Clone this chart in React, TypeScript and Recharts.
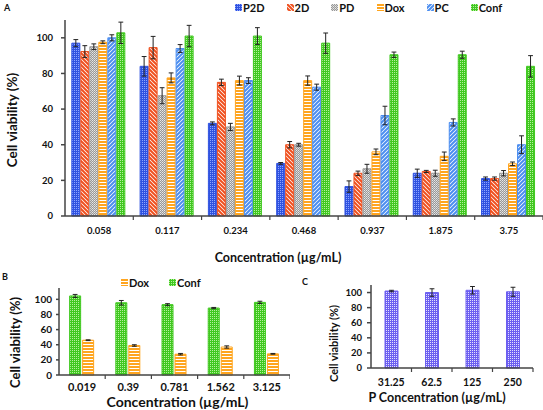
import React from 'react';
import { BarChart, Bar, XAxis, YAxis, ErrorBar, Legend } from 'recharts';

const FONT = 'Lato, "Open Sans", sans-serif';

// Panel A
const concA = ['0.058', '0.117', '0.234', '0.468', '0.937', '1.875', '3.75'];
const p2d = [97, 84, 52, 29.5, 16.5, 24, 21];
const p2dErr = [2, 5.5, 0.8, 0.5, 3.2, 2.3, 0.9];
const d2 = [92.3, 94.5, 75, 40, 24, 25, 21];
const d2Err = [3.3, 6.3, 1.8, 1.8, 1.2, 0.6, 0.9];
const pd = [95, 67.5, 50, 40, 26.5, 24, 24];
const pdErr = [1.6, 4.5, 2, 0.8, 2.5, 1.7, 1.5];
const dox = [97.5, 77.5, 76, 76, 36, 33.5, 29.3];
const doxErr = [0.8, 2.8, 2.5, 2.6, 1.6, 2.4, 1];
const pc = [100, 94, 76, 72.3, 56.4, 52.5, 40];
const pcErr = [1.7, 2.2, 1.6, 1.7, 5.2, 2, 5];
const conf = [102.8, 101, 101, 97, 90.5, 90.5, 84];
const confErr = [6, 6, 4.7, 5.7, 1.5, 2, 6];

// Panel B
const concB = ['0.019', '0.39', '0.781', '1.562', '3.125'];
const confB = [104.5, 95.5, 93, 88.5, 96];
const confBErr = [2, 3, 1.3, 0.8, 1.5];
const doxB = [46, 39, 27.5, 37, 28];
const doxBErr = [0.5, 1, 1, 1.5, 0.5];

// Panel C
const concC = ['31.25', '62.5', '125', '250'];
const pC = [102, 100, 103, 101];
const pCErr = [1, 5, 5, 6];

const dataA = concA.map((c, i) => ({
  conc: c,
  p2d: p2d[i], p2dErr: p2dErr[i],
  d2: d2[i], d2Err: d2Err[i],
  pd: pd[i], pdErr: pdErr[i],
  dox: dox[i], doxErr: doxErr[i],
  pc: pc[i], pcErr: pcErr[i],
  conf: conf[i], confErr: confErr[i],
}));
const dataB = concB.map((c, i) => ({ conc: c, conf: confB[i], confErr: confBErr[i], dox: doxB[i], doxErr: doxBErr[i] }));
const dataC = concC.map((c, i) => ({ conc: c, p: pC[i], pErr: pCErr[i] }));

const seriesA = [
  { key: 'p2d', name: 'P2D', pat: 'patP2D', stroke: '#2f52e0' },
  { key: 'd2', name: '2D', pat: 'pat2D', stroke: '#f0501e' },
  { key: 'pd', name: 'PD', pat: 'patPD', stroke: '#9a9a9a' },
  { key: 'dox', name: 'Dox', pat: 'patDox', stroke: '#ffa51f' },
  { key: 'pc', name: 'PC', pat: 'patPC', stroke: '#4c8ef0' },
  { key: 'conf', name: 'Conf', pat: 'patConf', stroke: '#40c820' },
];

const AXIS = '#444';

// shared fill patterns, kept in one hidden svg of the page
const PatternDefs = () => (
  <svg width={0} height={0} style={{ position: 'absolute' }}>
    <defs>
      <pattern id="patP2D" width="2" height="2" patternUnits="userSpaceOnUse">
        <rect width="2" height="2" fill="#2f52e0" />
        <rect width="1" height="1" fill="#8ea6ff" />
      </pattern>
      <pattern id="pat2D" width="4" height="4" patternUnits="userSpaceOnUse">
        <rect width="4" height="4" fill="#fff" />
        <path d="M-1,-1 l6,6 M-1,3 l2,2 M3,-1 l2,2" stroke="#f0501e" strokeWidth="2" />
      </pattern>
      <pattern id="patPD" width="2" height="2" patternUnits="userSpaceOnUse">
        <rect width="2" height="2" fill="#999" />
        <rect width="1" height="1" fill="#e8e8e8" />
        <rect x="1" y="1" width="1" height="1" fill="#d0d0d0" />
      </pattern>
      <pattern id="patDox" width="3" height="3" patternUnits="userSpaceOnUse">
        <rect width="3" height="3" fill="#fff" />
        <rect width="3" height="2" fill="#ffa51f" />
      </pattern>
      <pattern id="patPC" width="4" height="4" patternUnits="userSpaceOnUse">
        <rect width="4" height="4" fill="#fff" />
        <path d="M-1,1 l2,-2 M0,4 l4,-4 M3,5 l2,-2" stroke="#4c8ef0" strokeWidth="2" />
      </pattern>
      <pattern id="patConf" width="2" height="2" patternUnits="userSpaceOnUse">
        <rect width="2" height="2" fill="#40c820" />
        <rect width="1" height="1" fill="#b4f09c" />
      </pattern>
      <pattern id="patP" width="2" height="2" patternUnits="userSpaceOnUse">
        <rect width="2" height="2" fill="#6c5ff0" />
        <rect width="1" height="1" fill="#e4e0ff" />
      </pattern>
    </defs>
  </svg>
);

const boundaryTick = (fontSize: number, margin: number) => (props: any) => {
  const { x, y, payload } = props;
  const half = payload?.offset ?? 0;
  const axisY = y - margin;
  return (
    <g>
      <line x1={x + half} x2={x + half} y1={axisY} y2={axisY + 4} stroke={AXIS} strokeWidth={1.2} />
      <text x={x} y={y} dy="0.71em" textAnchor="middle" fontSize={fontSize} fontWeight={700} fontFamily={FONT} fill="#111">
        {payload.value}
      </text>
    </g>
  );
};

const xTitle = (text: string, size: number, dx: number, dy: number) => (props: any) => {
  const vb = props.viewBox || {};
  return (
    <text x={vb.x + vb.width / 2 + dx} y={vb.y + dy} textAnchor="middle" dominantBaseline="central"
      fontSize={size} fontWeight={700} fontFamily={FONT} fill="#111">{text}</text>
  );
};

// cx is measured from the chart's left edge
const yTitle = (text: string, size: number, cx: number, dy: number) => (props: any) => {
  const vb = props.viewBox || {};
  const cy = vb.y + vb.height / 2 + dy;
  return (
    <text x={cx} y={cy} transform={`rotate(-90 ${cx} ${cy})`} textAnchor="middle" dominantBaseline="central"
      fontSize={size} fontWeight={700} fontFamily={FONT} fill="#111">{text}</text>
  );
};

const legendContent = (fontSize: number, gap: number, order: string[]) => (props: any) => {
  const items = [...(props.payload || [])].sort((a: any, b: any) => order.indexOf(a.value) - order.indexOf(b.value));
  return (
    <div style={{ display: 'flex', alignItems: 'center', fontFamily: FONT, fontWeight: 700, fontSize, lineHeight: 1, color: '#111' }}>
      {items.map((p: any) => (
        <span key={p.value} style={{ display: 'flex', alignItems: 'center', marginRight: gap }}>
          <svg width={7} height={7} style={{ marginRight: 1 }}><rect width={7} height={7} fill={p.color} /></svg>
          {p.value}
        </span>
      ))}
    </div>
  );
};

const panelLetter = (text: string, left: number, top: number) => (
  <div style={{ position: 'absolute', left, top, fontFamily: FONT, fontWeight: 700, fontSize: 9, color: '#111' }}>{text}</div>
);

const yTick = (size: number) => ({ fontSize: size, fontWeight: 700, fontFamily: FONT, fill: '#111' });

const panelBox = (left: number, top: number, width: number, height: number) => ({
  position: 'absolute' as const, left, top, width, height, overflow: 'hidden' as const,
});

export default function App() {
  return (
    <div style={{ position: 'absolute', left: 0, top: 0, width: 543, height: 410, background: '#fff', overflow: 'hidden' }}>
      <PatternDefs />
      {panelLetter('A', 4, 2)}
      {panelLetter('B', 2, 271)}
      {panelLetter('C', 302, 276)}

      <div style={panelBox(0, 0, 543, 270)}>
        <BarChart width={543} height={270} data={dataA} margin={{ top: 20, right: 0, left: 0, bottom: 0 }}
          barCategoryGap="10%" barGap={1} accessibilityLayer={false}>
          <XAxis dataKey="conc" height={54} stroke={AXIS} strokeWidth={1.5} tickSize={0} tickMargin={11}
            tick={boundaryTick(9.5, 11)} interval={0}
            label={xTitle('Concentration (µg/mL)', 12.5, -26, 41)} />
          <YAxis width={65} domain={[0, 110]} ticks={[0, 20, 40, 60, 80, 100]} stroke={AXIS} strokeWidth={1.5}
            tickSize={4} tickMargin={8} tick={yTick(9.5)} interval={0}
            label={yTitle('Cell viability (%)', 13.5, 12, 2)} />
          <Legend layout="horizontal" verticalAlign="middle" align="center"
            wrapperStyle={{ top: 2, left: 235, width: 300 }} content={legendContent(11, 22, seriesA.map((s) => s.name))} />
          {seriesA.map((s) => (
            <Bar key={s.key} dataKey={s.key} name={s.name} fill={`url(#${s.pat})`} stroke={s.stroke} strokeWidth={1}
              isAnimationActive={false}>
              <ErrorBar dataKey={s.key + 'Err'} width={2.4} stroke="#222" strokeWidth={1} direction="y" />
            </Bar>
          ))}
        </BarChart>
      </div>

      <div style={panelBox(0, 270, 290, 140)}>
        <BarChart width={290} height={140} data={dataB} margin={{ top: 18, right: 0, left: 0, bottom: 0 }}
          barCategoryGap="23%" barGap={2} accessibilityLayer={false}>
          <XAxis dataKey="conc" height={35} stroke={AXIS} strokeWidth={1.5} tickSize={0} tickMargin={8.5}
            tick={boundaryTick(11, 8.5)} interval={0}
            label={xTitle('Concentration (µg/mL)', 14, 3, 26)} />
          <YAxis width={59} domain={[0, 115]} ticks={[0, 20, 40, 60, 80, 100]} stroke={AXIS} strokeWidth={1.5}
            tickSize={3} tickMargin={4} tick={yTick(10)} interval={0}
            label={yTitle('Cell viability (%)', 13, 15, 11)} />
          <Legend layout="horizontal" verticalAlign="middle" align="center"
            wrapperStyle={{ top: 7, left: 121, width: 150 }} content={legendContent(11, 20, ['Dox', 'Conf'])} />
          <Bar dataKey="conf" name="Conf" fill="url(#patConf)" stroke="#40c820" strokeWidth={1} isAnimationActive={false}>
            <ErrorBar dataKey="confErr" width={2.4} stroke="#222" strokeWidth={1} direction="y" />
          </Bar>
          <Bar dataKey="dox" name="Dox" fill="url(#patDox)" stroke="#ffa51f" strokeWidth={1} isAnimationActive={false}>
            <ErrorBar dataKey="doxErr" width={2.4} stroke="#222" strokeWidth={1} direction="y" />
          </Bar>
        </BarChart>
      </div>

      <div style={panelBox(290, 270, 253, 140)}>
        <BarChart width={253} height={140} data={dataC} margin={{ top: 15, right: 10, left: 0, bottom: 0 }}
          barSize={13} accessibilityLayer={false}>
          <XAxis dataKey="conc" height={42} stroke={AXIS} strokeWidth={1.5} tickSize={0} tickMargin={11}
            tick={boundaryTick(10.5, 11)} interval={0}
            label={xTitle('P Concentration (µg/mL)', 12.5, -15, 29)} />
          <YAxis width={81} domain={[0, 110]} ticks={[0, 20, 40, 60, 80, 100]} stroke={AXIS} strokeWidth={1.5}
            tickSize={4} tickMargin={5} tick={yTick(9.5)} interval={0}
            label={yTitle('Cell viability (%)', 11, 43, 17)} />
          <Bar dataKey="p" name="P" fill="url(#patP)" stroke="#6c5ff0" strokeWidth={1} isAnimationActive={false}>
            <ErrorBar dataKey="pErr" width={2.4} stroke="#222" strokeWidth={1} direction="y" />
          </Bar>
        </BarChart>
      </div>
    </div>
  );
}
